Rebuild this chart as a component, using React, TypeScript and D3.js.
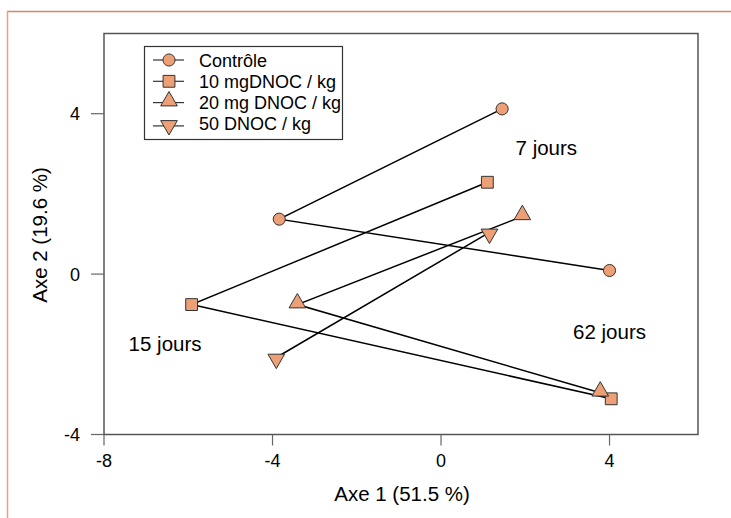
import React from 'react';
import * as d3 from 'd3';

// trajectories: 7 jours -> 15 jours -> 62 jours
const series = ['Contrôle', '10 mgDNOC / kg', '20 mg DNOC / kg', '50 DNOC / kg'];
const axe1 = [
  [1.45, -3.84, 4.0],
  [1.1, -5.92, 4.04],
  [1.93, -3.41, 3.78],
  [1.15, -3.91],
];
const axe2 = [
  [4.12, 1.37, 0.09],
  [2.29, -0.76, -3.11],
  [1.44, -0.76, -2.96],
  [1.04, -2.08],
];
const xTicks = [-8, -4, 0, 4];
const yTicks = [-4, 0, 4];
const dayLabels = [
  { text: '7 jours', x: 2.5, y: 3.15 },
  { text: '15 jours', x: -6.55, y: -1.75 },
  { text: '62 jours', x: 4.0, y: -1.45 },
];

const W = 731;
const H = 518;
const fill = '#eda075';
const font = 'Liberation Sans, Arial, sans-serif';

const symbols = [d3.symbolCircle, d3.symbolSquare, d3.symbolTriangle, d3.symbolTriangle];
const sizes = [115, 140, 120, 120];
const rotations = [0, 0, 0, 180];

const App = () => {
  const x = d3.scaleLinear().domain([-8, 6.1]).range([104, 698]);
  const y = d3.scaleLinear().domain([-4, 6]).range([434.5, 33.5]);

  const marker = (s: number, cx: number, cy: number, key: string) => (
    <path
      key={key}
      d={d3.symbol().type(symbols[s]).size(sizes[s])() || ''}
      transform={`translate(${cx},${cy + (s === 2 ? -1.5 : s === 3 ? 1.5 : 0)}) rotate(${rotations[s]})`}
      fill={fill}
      stroke="#333"
      strokeWidth={1}
    />
  );

  const [x0, x1] = x.range();
  const [y0, y1] = y.range();

  return (
    <svg width={W} height={H} style={{ position: 'fixed', left: 0, top: 0, background: '#fff' }} fontFamily={font}>
      {/* outer frame */}
      <line x1={7} x2={W} y1={11.5} y2={11.5} stroke="#db8560" strokeWidth={1.5} />
      <line x1={7.5} x2={7.5} y1={11} y2={H} stroke="#e6a083" strokeWidth={1.5} />

      {/* plot box */}
      <rect x={x0} y={y1} width={x1 - x0} height={y0 - y1} fill="none" stroke="#555" strokeWidth={1.5} />

      {/* x axis */}
      {xTicks.map(t => (
        <g key={'x' + t}>
          <line x1={x(t)} x2={x(t)} y1={y0} y2={y0 + 11} stroke="#666" strokeWidth={1.2} />
          <text x={x(t)} y={y0 + 32} textAnchor="middle" fontSize={18}>{t}</text>
        </g>
      ))}
      {/* y axis */}
      {yTicks.map(t => (
        <g key={'y' + t}>
          <line x1={x0 - 13} x2={x0} y1={y(t)} y2={y(t)} stroke="#666" strokeWidth={1.2} />
          <text x={x0 - 24} y={y(t) + 6.5} textAnchor="end" fontSize={18}>{t}</text>
        </g>
      ))}
      <text x={402} y={501} textAnchor="middle" fontSize={20.5}>Axe 1 (51.5 %)</text>
      <text transform={`translate(47,235) rotate(-90)`} textAnchor="middle" fontSize={20.5}>Axe 2 (19.6 %)</text>

      {/* trajectories */}
      {series.map((s, i) => {
        const pts = axe1[i].map((v, j) => [x(v), y(axe2[i][j])] as [number, number]);
        return (
          <path key={'l' + i} d={d3.line()(pts) || ''} fill="none" stroke="#000" strokeWidth={1.5} />
        );
      })}
      {series.map((s, i) =>
        axe1[i].map((v, j) => marker(i, x(v), y(axe2[i][j]), `m${i}-${j}`))
      )}

      {dayLabels.map(d => (
        <text key={d.text} x={x(d.x)} y={y(d.y) + 7} textAnchor="middle" fontSize={20.5}>{d.text}</text>
      ))}

      {/* legend */}
      <rect x={144.5} y={46.5} width={198} height={93} fill="#fff" stroke="#333" strokeWidth={1.2} />
      {series.map((s, i) => {
        const ly = 60 + i * 21.3;
        return (
          <g key={'lg' + i}>
            <line x1={153} x2={184} y1={ly + (i === 3 ? 2 : 0)} y2={ly + (i === 3 ? 2 : 0)} stroke="#333" strokeWidth={1.2} />
            {marker(i, 169, ly, 'lm' + i)}
            <text x={199} y={ly + 6.5} fontSize={18}>{s}</text>
          </g>
        );
      })}
    </svg>
  );
};

export default App;
